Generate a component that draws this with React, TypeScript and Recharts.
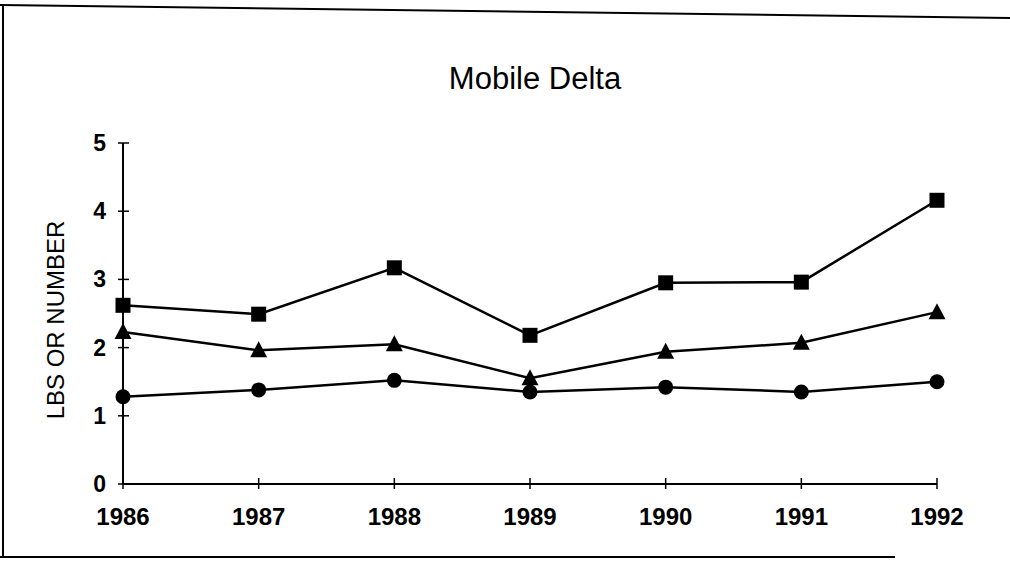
import React from "react";
import { LineChart, Line, XAxis, YAxis } from "recharts";

const years = [1986, 1987, 1988, 1989, 1990, 1991, 1992];
const squareValues = [2.62, 2.49, 3.17, 2.18, 2.95, 2.96, 4.16];
const triangleValues = [2.23, 1.96, 2.05, 1.55, 1.94, 2.07, 2.52];
const circleValues = [1.28, 1.38, 1.52, 1.35, 1.42, 1.35, 1.5];
const yTicks = [0, 1, 2, 3, 4, 5];

const data = years.map((year, i) => ({
  year,
  squares: squareValues[i],
  triangles: triangleValues[i],
  circles: circleValues[i],
}));

const FONT = "Arial, 'Liberation Sans', Helvetica, sans-serif";

function SquareDot({ cx, cy }: any) {
  return <rect x={cx - 7.5} y={cy - 7.5} width={15} height={15} fill="#000" />;
}

function TriangleDot({ cx, cy }: any) {
  return <polygon points={`${cx},${cy - 9} ${cx - 8.5},${cy + 7} ${cx + 8.5},${cy + 7}`} fill="#000" />;
}

function CircleDot({ cx, cy }: any) {
  return <circle cx={cx} cy={cy} r={7.5} fill="#000" />;
}

function XTick({ x, y, payload }: any) {
  return (
    <g>
      <line x1={x} x2={x} y1={y - 6} y2={y + 5} stroke="#000" strokeWidth={1.5} />
      <text x={x} y={y + 41} textAnchor="middle" fontSize={24} fontWeight="bold" fill="#000" fontFamily={FONT}>
        {payload.value}
      </text>
    </g>
  );
}

function YTick({ x, y, payload }: any) {
  return (
    <g>
      <line x1={x - 5} x2={x + 6} y1={y} y2={y} stroke="#000" strokeWidth={1.5} />
      <text x={x - 17} y={y + 8} textAnchor="end" fontSize={23} fontWeight="bold" fill="#000" fontFamily={FONT}>
        {payload.value}
      </text>
    </g>
  );
}

export default function App() {
  return (
    <div style={{ position: "absolute", left: 0, top: 0, width: 1010, height: 567, background: "#fff", fontFamily: FONT }}>
      <LineChart
        width={1010}
        height={567}
        data={data}
        margin={{ top: 143, right: 73, bottom: 43, left: 63 }}
      >
        <XAxis
          dataKey="year"
          type="number"
          domain={[1986, 1992]}
          ticks={years}
          height={40}
          tickSize={0}
          tickMargin={0}
          tickLine={false}
          axisLine={{ stroke: "#000", strokeWidth: 2 }}
          tick={<XTick />}
          interval={0}
        />
        <YAxis
          type="number"
          domain={[0, 5]}
          ticks={yTicks}
          width={60}
          tickSize={0}
          tickMargin={0}
          tickLine={false}
          axisLine={{ stroke: "#000", strokeWidth: 2 }}
          tick={<YTick />}
          interval={0}
        />
        <Line
          dataKey="squares"
          type="linear"
          stroke="#000"
          strokeWidth={2.5}
          dot={<SquareDot />}
          activeDot={false}
          isAnimationActive={false}
        />
        <Line
          dataKey="triangles"
          type="linear"
          stroke="#000"
          strokeWidth={2.5}
          dot={<TriangleDot />}
          activeDot={false}
          isAnimationActive={false}
        />
        <Line
          dataKey="circles"
          type="linear"
          stroke="#000"
          strokeWidth={2.5}
          dot={<CircleDot />}
          activeDot={false}
          isAnimationActive={false}
        />
      </LineChart>
      <svg
        width={1010}
        height={567}
        style={{ position: "absolute", left: 0, top: 0, pointerEvents: "none" }}
      >
        <line x1={0} y1={5} x2={1010} y2={18} stroke="#000" strokeWidth={2} />
        <line x1={3} y1={5} x2={3} y2={557} stroke="#000" strokeWidth={2} />
        <line x1={0} y1={557} x2={895} y2={557} stroke="#000" strokeWidth={2} />
        <text x={535} y={89} textAnchor="middle" fontSize={31} fill="#000" fontFamily={FONT}>
          Mobile Delta
        </text>
        <text
          x={0}
          y={0}
          transform="translate(64, 320) rotate(-90)"
          textAnchor="middle"
          fontSize={24}
          fill="#000"
          fontFamily={FONT}
        >
          LBS OR NUMBER
        </text>
      </svg>
    </div>
  );
}
